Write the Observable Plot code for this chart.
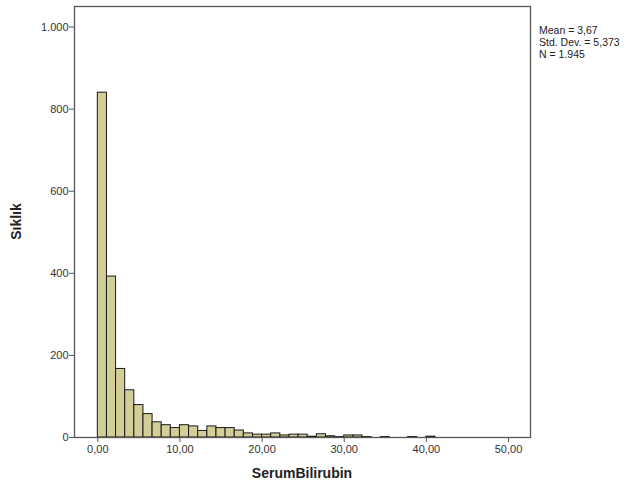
<!DOCTYPE html>
<html>
<head>
<meta charset="utf-8">
<script src="https://cdn.jsdelivr.net/npm/d3@7"></script>
<script src="https://cdn.jsdelivr.net/npm/@observablehq/plot@0.6"></script>
<style>
  html, body { margin: 0; padding: 0; background: #fff; }
  svg { font-family: "Liberation Sans", Arial, sans-serif; }
</style>
</head>
<body>
<div id="chart"></div>
<script>
// Histogram of SerumBilirubin: 45 bins of width 10/9 from 0 to 50
const binWidth = 10 / 9;
const counts = [840, 392, 167, 115, 79, 57, 37, 30, 23, 30, 27, 16, 27, 23, 23, 17, 10, 7,
                7, 10, 5, 7, 7, 2, 8, 3, 1, 5, 5, 1, 0, 1, 0, 0, 1, 0, 2, 0, 0, 0, 0, 0, 0, 0, 0];
const xTicks = [0, 10, 20, 30, 40, 50];
const yTicks = [0, 200, 400, 600, 800, 1000];
const statLines = ["Mean = 3,67", "Std. Dev. = 5,373", "N = 1.945"];
const xLabel = "SerumBilirubin";
const yLabel = "Sıklık";

const bins = counts.map((c, i) => ({x1: i * binWidth, x2: (i + 1) * binWidth, count: c}))
  .filter(d => d.count > 0);

const fmtX = d => d.toFixed(2).replace(".", ",");
const fmtY = d => d3.format(",")(d).replace(/,/g, ".");

const W = 635, H = 485, mL = 74, mR = 105, mT = 6, mB = 48;

const chart = Plot.plot({
  width: W, height: H,
  marginLeft: mL, marginRight: mR, marginTop: mT, marginBottom: mB,
  style: {fontFamily: "'Liberation Sans', Arial, sans-serif", fontSize: "11px", color: "#333", background: "#fff"},
  x: {domain: [-2.84, 52.68]},
  y: {domain: [0, 1050]},
  marks: [
    Plot.rect(bins, {x1: "x1", x2: "x2", y1: 0, y2: "count", fill: "#d3ce97", stroke: "#1a1a1a", strokeWidth: 1}),
    Plot.frame({stroke: "#555", strokeWidth: 1.3}),
    Plot.axisX({ticks: xTicks, tickFormat: fmtX, tickSize: 5, tickPadding: 3, label: null, stroke: "#555", fill: "#333"}),
    Plot.axisY({ticks: yTicks, tickFormat: fmtY, tickSize: 5, tickPadding: 1, label: null, stroke: "#555", fill: "#333"})
  ]
});

const svg = d3.select(chart);
svg.append("text")
  .attr("x", (mL + (W - mR)) / 2).attr("y", 478)
  .attr("text-anchor", "middle")
  .attr("font-size", 14).attr("font-weight", "bold").attr("fill", "#222")
  .text(xLabel);
svg.append("text")
  .attr("transform", `translate(21,${(mT + (H - mB)) / 2}) rotate(-90)`)
  .attr("text-anchor", "middle")
  .attr("font-size", 14).attr("font-weight", "bold").attr("fill", "#222")
  .text(yLabel);
const st = svg.append("text").attr("font-size", 10.5).attr("fill", "#222").attr("text-anchor", "start");
statLines.forEach((s, i) => {
  st.append("tspan").attr("x", 539).attr("y", 34 + i * 12).text(s);
});

document.getElementById("chart").appendChild(chart);
</script>
</body>
</html>
